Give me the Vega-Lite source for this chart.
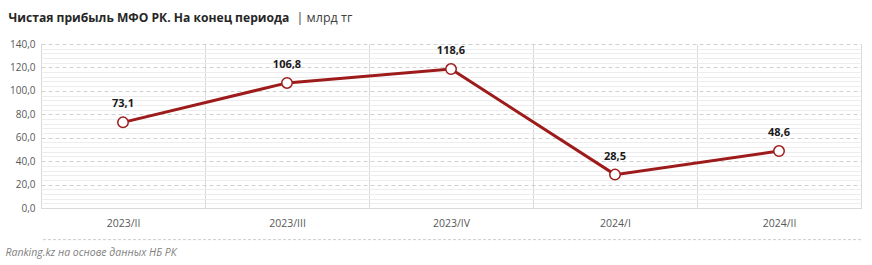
{
  "$schema": "https://vega.github.io/schema/vega-lite/v6.json",
  "width": 820,
  "height": 164,
  "autosize": {"type": "none"},
  "padding": {"left": 41, "top": 44, "right": 11, "bottom": 57},
  "background": "white",
  "config": {
    "view": {"stroke": null},
    "font": "Open Sans",
    "locale": {"number": {"decimal": ",", "thousands": " ", "grouping": [3], "currency": ["", ""]}}
  },
  "layer": [
    {
      "data": {"values": [{"sep": "footer"}]},
      "mark": {"type": "rule", "strokeDash": [3, 2], "color": "#cccccc", "strokeWidth": 1},
      "encoding": {"y": {"datum": -27, "type": "quantitative", "axis": null}}
    },
    {
      "data": {
        "values": [
          {"period": "2023/II", "value": 73.1},
          {"period": "2023/III", "value": 106.8},
          {"period": "2023/IV", "value": 118.6},
          {"period": "2024/I", "value": 28.5},
          {"period": "2024/II", "value": 48.6}
        ]
      },
      "encoding": {
        "x": {
          "field": "period",
          "type": "nominal",
          "sort": null,
          "scale": {"paddingInner": 0, "paddingOuter": 0},
          "axis": {
            "tickBand": "extent",
            "grid": true,
            "gridColor": "#d9d9d9",
            "gridWidth": 1,
            "ticks": false,
            "domainColor": "#d9d9d9",
            "labelAngle": 0,
            "labelFont": "Open Sans",
            "labelFontSize": 10.5,
            "labelColor": "#595959",
            "labelPadding": 10,
            "title": "Ranking.kz на основе данных НБ РК",
            "titleAlign": "left",
            "titleAnchor": "start",
            "titleBaseline": "alphabetic",
            "titleX": -36,
            "titleY": 47,
            "titleFont": "Open Sans",
            "titleFontSize": 10.5,
            "titleFontStyle": "italic",
            "titleFontWeight": "normal",
            "titleColor": "#7f7f7f"
          }
        }
      },
      "layer": [
        {
          "mark": {"type": "line", "color": "#9e1b1b", "strokeWidth": 3},
          "encoding": {
            "y": {
              "field": "value",
              "type": "quantitative",
              "scale": {"domain": [0, 140], "clamp": false, "nice": false},
              "axis": {
                "values": [0, 20, 40, 60, 80, 100, 120, 140],
                "format": ".1f",
                "grid": true,
                "gridColor": "#d0d0d0",
                "gridDash": [4, 3],
                "domain": false,
                "ticks": false,
                "labelFont": "Open Sans",
                "labelFontSize": 10,
                "labelColor": "#595959",
                "labelPadding": 6,
                "title": "Чистая прибыль МФО РК. На конец периода",
                "titleAngle": 0,
                "titleAlign": "left",
                "titleBaseline": "alphabetic",
                "titleX": -33,
                "titleY": -23,
                "titleFont": "Open Sans",
                "titleFontSize": 12.1,
                "titleFontWeight": "bold",
                "titleColor": "#262626"
              }
            }
          }
        },
        {
          "mark": {"type": "point", "filled": false, "fill": "white", "stroke": "#9e1b1b", "strokeWidth": 1.5, "size": 110, "opacity": 1},
          "encoding": {
            "y": {
              "field": "value",
              "type": "quantitative",
              "axis": {
                "orient": "right",
                "values": [4, 8, 12, 16, 24, 28, 32, 36, 44, 48, 52, 56, 64, 68, 72, 76, 84, 88, 92, 96, 104, 108, 112, 116, 124, 128, 132, 136],
                "grid": true,
                "gridColor": "#ededed",
                "domain": false,
                "ticks": false,
                "labels": false,
                "title": "| млрд тг",
                "titleAngle": 0,
                "titleAlign": "left",
                "titleBaseline": "alphabetic",
                "titleX": -565,
                "titleY": -23,
                "titleFont": "Open Sans",
                "titleFontSize": 12.5,
                "titleFontWeight": "normal",
                "titleColor": "#404040"
              }
            }
          }
        },
        {
          "mark": {"type": "text", "dy": -18, "fontSize": 11, "fontWeight": "bold", "color": "#1a1a1a", "font": "Open Sans"},
          "encoding": {
            "y": {"field": "value", "type": "quantitative", "axis": null},
            "text": {"field": "value", "type": "quantitative", "format": ".1f"}
          }
        }
      ],
      "resolve": {"axis": {"y": "independent"}}
    }
  ],
  "resolve": {"axis": {"y": "independent"}}
}
